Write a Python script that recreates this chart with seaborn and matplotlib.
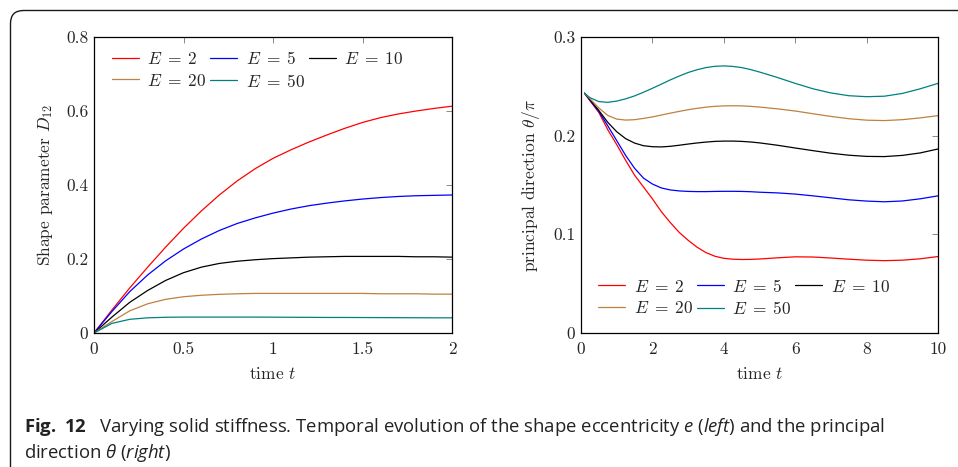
import numpy as np
import pandas as pd
import matplotlib
matplotlib.use("Agg")
import matplotlib.pyplot as plt
from matplotlib.patches import FancyBboxPatch
from matplotlib.transforms import IdentityTransform
from matplotlib import font_manager as fm
import seaborn as sns

# ---------------- data ----------------
E_labels = [r"$E\;=\;2$", r"$E\;=\;5$", r"$E\;=\;10$", r"$E\;=\;20$", r"$E\;=\;50$"]
colors = ["#ff0000", "#0000ff", "#000000", "#bf8040", "#008080"]

# left: shape parameter D12 vs time (0..2)
t_left = [0.0, 0.1, 0.2, 0.3, 0.4, 0.5, 0.6, 0.7, 0.8, 0.9, 1.0,
          1.1, 1.2, 1.3, 1.4, 1.5, 1.6, 1.7, 1.8, 1.9, 2.0]
d12_E2 = [0.0, 0.062, 0.122, 0.178, 0.232, 0.283, 0.330, 0.373, 0.411, 0.444, 0.472,
          0.495, 0.516, 0.535, 0.553, 0.569, 0.582, 0.592, 0.600, 0.607, 0.613]
d12_E5 = [0.0, 0.058, 0.112, 0.157, 0.195, 0.227, 0.254, 0.277, 0.296, 0.311, 0.324,
          0.335, 0.344, 0.351, 0.357, 0.362, 0.366, 0.369, 0.371, 0.372, 0.373]
d12_E10 = [0.0, 0.043, 0.083, 0.115, 0.142, 0.163, 0.178, 0.188, 0.194, 0.198, 0.201,
           0.203, 0.205, 0.206, 0.207, 0.207, 0.207, 0.207, 0.206, 0.206, 0.205]
d12_E20 = [0.0, 0.031, 0.060, 0.079, 0.091, 0.098, 0.102, 0.1045, 0.106, 0.107, 0.107,
           0.107, 0.107, 0.107, 0.107, 0.107, 0.106, 0.106, 0.106, 0.105, 0.105]
d12_E50 = [0.0, 0.026, 0.037, 0.041, 0.0425, 0.043, 0.043, 0.043, 0.043, 0.043, 0.0428,
           0.0425, 0.0423, 0.042, 0.042, 0.0418, 0.0416, 0.0414, 0.0412, 0.041, 0.041]

# right: principal direction theta/pi vs time (0..10)
t_right = [0.1, 0.25, 0.5, 0.75, 1.0, 1.25, 1.5, 1.75, 2.0, 2.25, 2.5, 2.75, 3.0, 3.25,
           3.5, 3.75, 4.0, 4.25, 4.5, 4.75, 5.0, 5.5, 6.0, 6.5, 7.0, 7.5, 8.0, 8.5,
           9.0, 9.5, 10.0]
th_E2 = [0.243, 0.2355, 0.2235, 0.206, 0.191, 0.175, 0.160, 0.148, 0.136, 0.123, 0.112,
         0.102, 0.094, 0.087, 0.0815, 0.0778, 0.0757, 0.0748, 0.0745, 0.0746, 0.0750,
         0.0762, 0.0772, 0.0770, 0.0760, 0.0748, 0.0738, 0.0733, 0.0738, 0.0752, 0.0775]
th_E5 = [0.243, 0.236, 0.2245, 0.210, 0.195, 0.180, 0.167, 0.157, 0.151, 0.147, 0.145,
         0.144, 0.1435, 0.1433, 0.1433, 0.1435, 0.1436, 0.1436, 0.1435, 0.1432, 0.1427,
         0.142, 0.1408, 0.139, 0.137, 0.135, 0.1337, 0.133, 0.1338, 0.136, 0.139]
th_E10 = [0.243, 0.2365, 0.2255, 0.2135, 0.204, 0.197, 0.1925, 0.1898, 0.1888, 0.1886,
          0.1892, 0.1903, 0.1915, 0.1926, 0.1935, 0.1942, 0.1945, 0.1945, 0.1942, 0.1936,
          0.1927, 0.1903, 0.1875, 0.1848, 0.1822, 0.1802, 0.179, 0.1788, 0.180, 0.1825, 0.1865]
th_E20 = [0.243, 0.2375, 0.228, 0.2205, 0.2168, 0.2158, 0.2162, 0.2175, 0.219, 0.2209,
          0.2228, 0.2246, 0.2263, 0.2277, 0.2289, 0.2297, 0.2302, 0.2303, 0.2302, 0.2297,
          0.2290, 0.2272, 0.2250, 0.2222, 0.2195, 0.2172, 0.2157, 0.2153, 0.2162, 0.2180, 0.2203]
th_E50 = [0.243, 0.2385, 0.2345, 0.2338, 0.2350, 0.2373, 0.2403, 0.2440, 0.2480, 0.2522,
          0.2565, 0.2604, 0.2640, 0.2668, 0.2690, 0.2703, 0.2707, 0.2702, 0.2690, 0.2670,
          0.2645, 0.2590, 0.2530, 0.2475, 0.2433, 0.2405, 0.2395, 0.2400, 0.2428, 0.2475, 0.2530]

left_ticks_x = [0, 0.5, 1, 1.5, 2]
left_ticklabels_x = ["0", "0.5", "1", "1.5", "2"]
left_ticks_y = [0, 0.2, 0.4, 0.6, 0.8]
left_ticklabels_y = ["0", "0.2", "0.4", "0.6", "0.8"]
right_ticks_x = [0, 2, 4, 6, 8, 10]
right_ticklabels_x = ["0", "2", "4", "6", "8", "10"]
right_ticks_y = [0, 0.1, 0.2, 0.3]
right_ticklabels_y = ["0", "0.1", "0.2", "0.3"]

caption_l1 = (r"$\mathbf{Fig.\ 12}$   Varying solid stiffness. Temporal evolution of the shape "
              r"eccentricity $\mathit{e}$ ($\mathit{left}$) and the principal")
caption_l2 = r"direction $\mathit{\theta}$ ($\mathit{right}$)"

# ---------------- build frames ----------------
def long_frame(t, series):
    rows = []
    for lab, vals in zip(E_labels, series):
        for x, y in zip(t, vals):
            rows.append({"t": x, "v": y, "E": lab})
    return pd.DataFrame(rows)

df_left = long_frame(t_left, [d12_E2, d12_E5, d12_E10, d12_E20, d12_E50])
df_right = long_frame(t_right, [th_E2, th_E5, th_E10, th_E20, th_E50])

# ---------------- style ----------------
available = {f.name for f in fm.fontManager.ttflist}
cap_family = "Liberation Sans Narrow" if "Liberation Sans Narrow" in available else "Open Sans"

sns.set_theme(style="white")
plt.rcParams.update({
    "font.family": "serif",
    "font.serif": ["cmr10"],
    "mathtext.fontset": "cm",
    "axes.formatter.use_mathtext": True,
    "axes.unicode_minus": False,
    "mathtext.rm": cap_family,
    "mathtext.it": cap_family + ":italic",
    "mathtext.bf": cap_family + ":bold",
})

W, H = 958, 467
fig = plt.figure(figsize=(W / 100, H / 100), dpi=100)

# rounded frame
frame = FancyBboxPatch((10.5, -40), 1100, H - 10.5 + 40,
                       boxstyle="round,pad=0,rounding_size=13",
                       transform=IdentityTransform(), fill=False,
                       edgecolor="#1a1a1a", linewidth=1.0)
fig.patches.append(frame)

def fpos(x0, x1, ytop, ybot):
    return [x0 / W, 1 - ybot / H, (x1 - x0) / W, (ybot - ytop) / H]

axL = fig.add_axes(fpos(94, 452, 37, 333))
axR = fig.add_axes(fpos(581, 938, 37, 333))

palette = dict(zip(E_labels, colors))
FS = 12.5

for ax, df in [(axL, df_left), (axR, df_right)]:
    sns.lineplot(data=df, x="t", y="v", hue="E", palette=palette, estimator=None,
                 sort=False, linewidth=0.9, legend=False, ax=ax, hue_order=E_labels)

def style_axes(ax, xt, xtl, yt, ytl, xlim, ylim, ylabel, loc, anchor):
    ax.set_xlim(*xlim)
    ax.set_ylim(*ylim)
    ax.set_xticks(xt)
    ax.set_xticklabels(xtl)
    ax.set_yticks(yt)
    ax.set_yticklabels(ytl)
    ax.tick_params(direction="in", length=4, width=0.6, color="#777777",
                   top=True, right=True, labelsize=FS, pad=4)
    ax.tick_params(axis="x", pad=6)
    for s in ax.spines.values():
        s.set_color("black")
        s.set_linewidth(0.9)
    ax.set_xlabel(r"time $t$", fontsize=FS, labelpad=7)
    ax.set_ylabel(ylabel, fontsize=FS, labelpad=8)
    ax.grid(False)
    ax.set_facecolor("white")
    lines = ax.get_lines()[:5]
    # row-wise ordering for 3 columns: E2 E5 E10 / E20 E50
    order = [0, 3, 1, 4, 2]
    ax.legend([lines[i] for i in order], [E_labels[i] for i in order],
              loc=loc, bbox_to_anchor=anchor, ncol=3, frameon=False,
              fontsize=FS, handlelength=1.55, handletextpad=0.5, columnspacing=0.2,
              labelspacing=0.3, borderaxespad=0.0, borderpad=0.0)

style_axes(axL, left_ticks_x, left_ticklabels_x, left_ticks_y, left_ticklabels_y,
           (0, 2), (0, 0.8), r"Shape parameter $D_{12}$", "upper left", (0.05, 0.955))
style_axes(axR, right_ticks_x, right_ticklabels_x, right_ticks_y, right_ticklabels_y,
           (0, 10), (0, 0.3), r"principal direction $\theta/\pi$", "lower left", (0.048, 0.055))

# caption
cap_fs = 13.0
t1 = fig.text(24 / W, 1 - 432 / H, caption_l1, fontsize=cap_fs, family=cap_family,
              math_fontfamily="custom", va="baseline", ha="left", color="#222222")
t2 = fig.text(24 / W, 1 - 458 / H, caption_l2, fontsize=cap_fs, family=cap_family,
              math_fontfamily="custom", va="baseline", ha="left", color="#222222")
fig.canvas.draw()
w = t1.get_window_extent().width
scale = 856.0 / w
t1.set_fontsize(cap_fs * scale)
t2.set_fontsize(cap_fs * scale)

fig.savefig("out.png", dpi=100, facecolor="white")
